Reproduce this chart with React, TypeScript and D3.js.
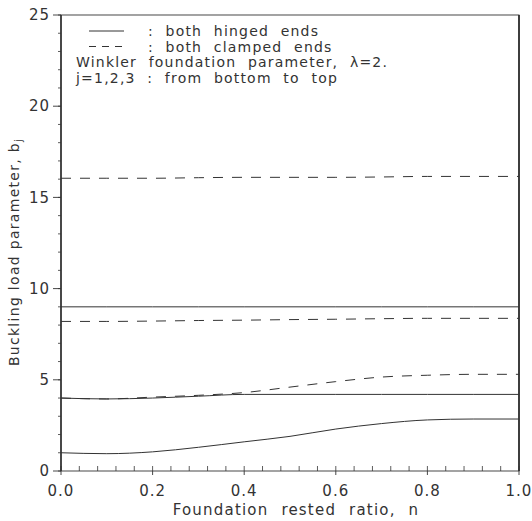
import React from 'react';
import * as d3 from 'd3';

// foundation rested ratio n
const nValues = [0, 0.1, 0.2, 0.3, 0.4, 0.5, 0.6, 0.7, 0.8, 0.9, 1.0];

// both hinged ends, j = 1,2,3
const hinged1 = [1.0, 0.95, 1.05, 1.3, 1.6, 1.9, 2.3, 2.6, 2.8, 2.85, 2.85];
const hinged2 = [4.0, 3.95, 4.0, 4.1, 4.2, 4.2, 4.2, 4.2, 4.2, 4.2, 4.2];
const hinged3 = [9.0, 9.0, 9.0, 9.0, 9.0, 9.0, 9.0, 9.0, 9.0, 9.0, 9.0];

// both clamped ends, j = 1,2,3
const clamped1 = [4.0, 3.95, 4.05, 4.15, 4.3, 4.6, 4.9, 5.15, 5.25, 5.3, 5.3];
const clamped2 = [8.2, 8.2, 8.22, 8.25, 8.27, 8.3, 8.32, 8.35, 8.37, 8.37, 8.37];
const clamped3 = [16.05, 16.05, 16.05, 16.08, 16.1, 16.1, 16.1, 16.12, 16.15, 16.15, 16.15];

const xTicks = [0, 0.2, 0.4, 0.6, 0.8, 1.0];
const yTicks = [0, 5, 10, 15, 20, 25];

const legendLines = [
  ': both hinged ends',
  ': both clamped ends',
  'Winkler foundation parameter, \u03bb=2.',
  'j=1,2,3 : from bottom to top',
];

const W = 532;
const H = 521;
const margin = { left: 61, right: 13, top: 15, bottom: 50 };
const ink = '#333';
const font = '"DejaVu Sans", sans-serif';

export default function App() {
  const x = d3.scaleLinear().domain([0, 1]).range([margin.left, W - margin.right]);
  const y = d3.scaleLinear().domain([0, 25]).range([H - margin.bottom, margin.top]);

  const line = d3.line<number>()
    .x((_, i) => x(nValues[i]))
    .y(d => y(d))
    .curve(d3.curveMonotoneX);

  const solid = [hinged1, hinged2, hinged3];
  const dashed = [clamped1, clamped2, clamped3];

  const xMinor = d3.range(0, 1.0001, 0.04);
  const yMinor = d3.range(0, 25.0001, 1);

  return (
    <svg width={W} height={H} style={{ position: 'absolute', left: 0, top: 0, background: '#fff' }}>
      {/* frame */}
      <rect x={x(0)} y={y(25)} width={x(1) - x(0)} height={y(0) - y(25)}
        fill="none" stroke={ink} strokeWidth={0.9} />
      <line x1={x(0)} x2={x(0)} y1={y(0)} y2={y(25)} stroke={ink} strokeWidth={1.6} />
      <line x1={x(1)} x2={x(1)} y1={y(0)} y2={y(25)} stroke={ink} strokeWidth={1.8} />

      {/* y minor ticks */}
      {yMinor.map(v => (
        <line key={'ym' + v} x1={x(0) - 3} x2={x(0)} y1={y(v)} y2={y(v)} stroke={ink} strokeWidth={0.8} />
      ))}
      {/* y major ticks + labels */}
      {yTicks.map(v => (
        <g key={'y' + v}>
          <line x1={x(0) - 8} x2={x(0)} y1={y(v)} y2={y(v)} stroke={ink} strokeWidth={0.9} />
          <text x={x(0) - 11} y={y(v)} dy="0.35em" textAnchor="end"
            fontFamily={font} fontSize={15} fill={ink} letterSpacing={1}>{v}</text>
        </g>
      ))}

      {/* x minor ticks (inward) */}
      {xMinor.map(v => (
        <line key={'xm' + v} x1={x(v)} x2={x(v)} y1={y(0)} y2={y(0) - 5} stroke={ink} strokeWidth={0.8} />
      ))}
      {xTicks.map(v => (
        <g key={'x' + v}>
          <line x1={x(v)} x2={x(v)} y1={y(0)} y2={y(0) + 4} stroke={ink} strokeWidth={0.9} />
          <text x={x(v)} y={y(0) + 25} textAnchor="middle"
            fontFamily={font} fontSize={15} fill={ink} letterSpacing={1}>{v.toFixed(1)}</text>
        </g>
      ))}

      {/* curves */}
      {solid.map((s, i) => (
        <path key={'h' + i} d={line(s) || ''} fill="none" stroke={ink} strokeWidth={1} />
      ))}
      {dashed.map((s, i) => (
        <path key={'c' + i} d={line(s) || ''} fill="none" stroke={ink} strokeWidth={1}
          strokeDasharray="10,9" />
      ))}

      {/* legend */}
      <line x1={89} x2={124} y1={31} y2={31} stroke={ink} strokeWidth={1} />
      <line x1={89} x2={124} y1={46.5} y2={46.5} stroke={ink} strokeWidth={1} strokeDasharray="7,6" />
      {legendLines.map((t, i) => (
        <text key={'l' + i} x={i < 2 ? 148 : 76} y={36 + i * 15.5}
          fontFamily={font} fontSize={14} fill={ink} letterSpacing={1.2} wordSpacing={6}>{t}</text>
      ))}

      {/* axis titles */}
      <text x={296} y={H - 6} textAnchor="middle"
        fontFamily={font} fontSize={15} fill={ink} letterSpacing={1.2} wordSpacing={7}>Foundation rested ratio, n</text>
      <text transform={`translate(19,252) rotate(-90)`} textAnchor="middle"
        fontFamily={font} fontSize={14} fill={ink} letterSpacing={1.3}>
        Buckling load parameter, b<tspan fontSize={10} dy={3}>j</tspan>
      </text>
    </svg>
  );
}
